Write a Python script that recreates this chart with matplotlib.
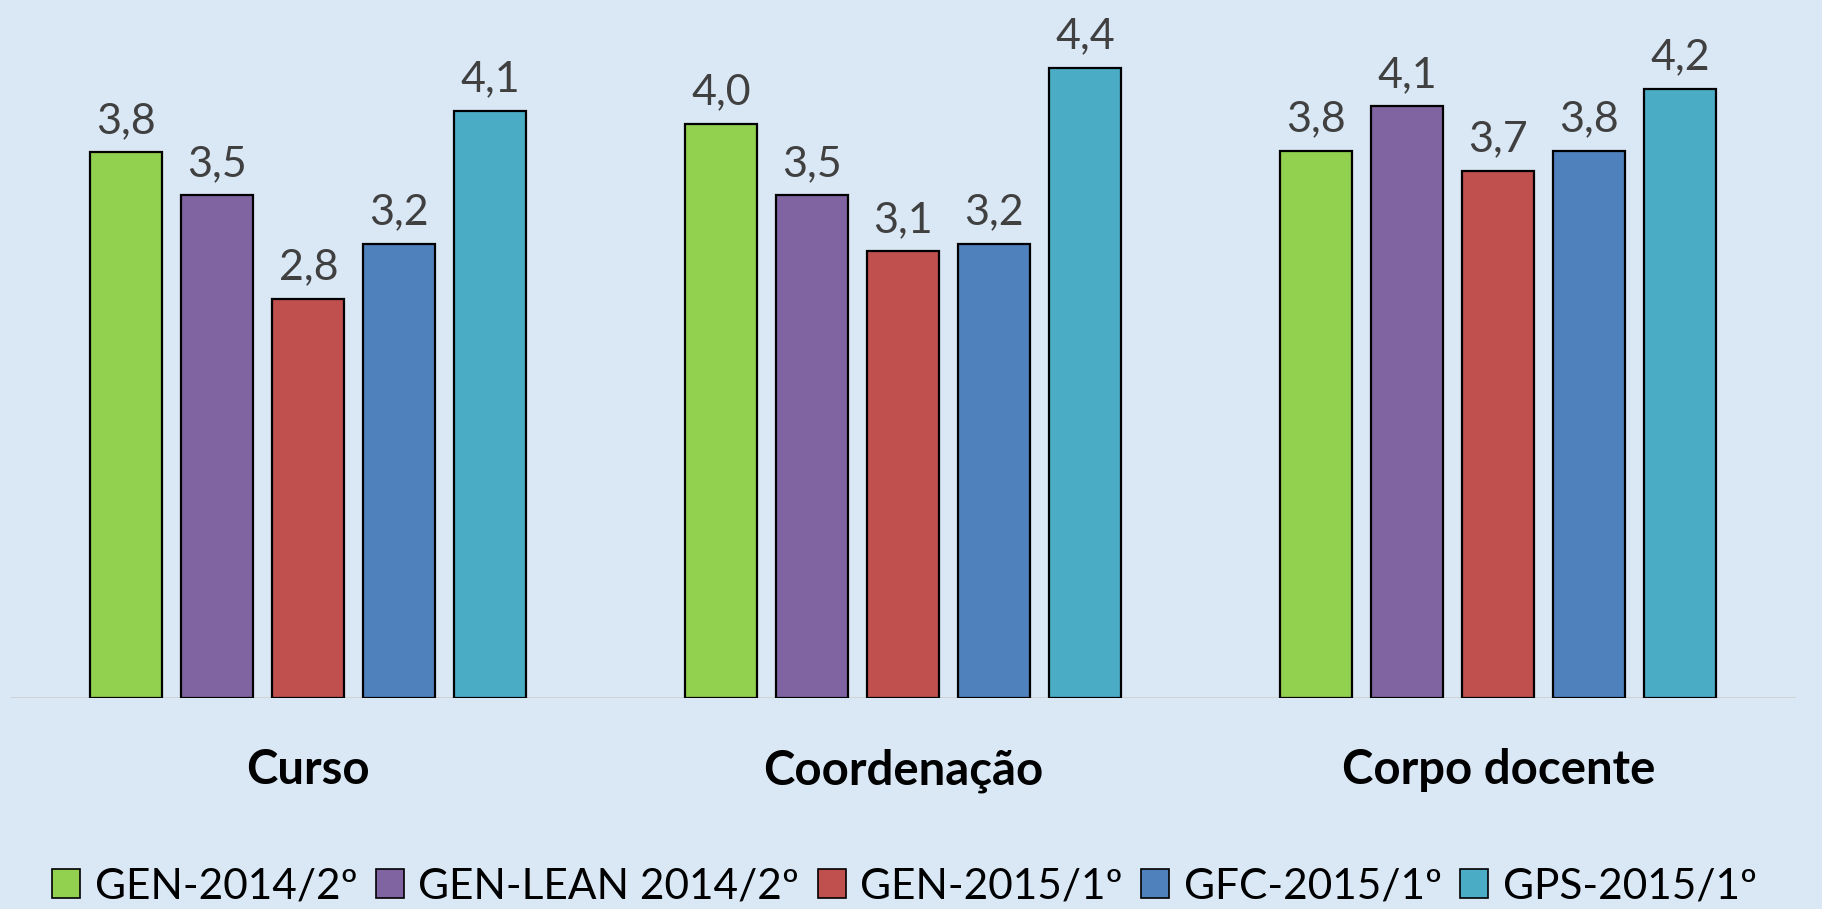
import matplotlib
matplotlib.use("Agg")
import matplotlib.pyplot as plt
import numpy as np

categories = ["Curso", "Coordenação", "Corpo docente"]
series_names = ["GEN-2014/2º", "GEN-LEAN 2014/2º", "GEN-2015/1º", "GFC-2015/1º", "GPS-2015/1º"]
gen_2014 = [3.80, 4.00, 3.81]
gen_lean_2014 = [3.50, 3.50, 4.12]
gen_2015 = [2.78, 3.11, 3.67]
gfc_2015 = [3.16, 3.16, 3.81]
gps_2015 = [4.09, 4.39, 4.24]
series_values = [gen_2014, gen_lean_2014, gen_2015, gfc_2015, gps_2015]
colors = ["#92d050", "#8064a2", "#c0504d", "#4f81bd", "#4bacc6"]

plt.rcParams['font.family'] = ['Lato', 'DejaVu Sans']

bg = "#dae8f6"
fig = plt.figure(figsize=(18.22, 9.09), dpi=100, facecolor=bg)
ax = fig.add_axes([0.006, 0.232, 0.9796, 0.768])
ax.set_facecolor(bg)
ax.patch.set_alpha(0)

x = np.arange(len(categories))
pitch = 0.153
width = 0.121
for i, (name, vals, c) in enumerate(zip(series_names, series_values, colors)):
    pos = x + (i - 2) * pitch
    bars = ax.bar(pos, vals, width=width, color=c, edgecolor="black", linewidth=1.6, label=name, zorder=3)
    for b, v in zip(bars, vals):
        ax.annotate(f"{v:.1f}".replace(".", ","), (b.get_x() + b.get_width() / 2, v),
                    xytext=(0, 9), textcoords="offset points", ha="center", va="bottom",
                    fontsize=31, color="#404040")

ax.set_xlim(-0.5, 2.5)
ax.set_ylim(0, 4.86)
ax.axhline(0, color="#d0d0d0", linewidth=2, zorder=2)
for s in ax.spines.values():
    s.set_visible(False)
ax.set_yticks([])
ax.set_xticks(x)
ax.set_xticklabels(categories, fontsize=34, fontweight="bold", color="black")
ax.tick_params(axis="x", length=0, pad=36)

leg = fig.legend(loc="center", bbox_to_anchor=(0.4965, 0.025), ncol=5, frameon=False,
                 fontsize=30.5, handlelength=0.66, handleheight=0.66, handletextpad=0.35,
                 columnspacing=0.43, borderaxespad=0)
for h in leg.legend_handles:
    h.set_linewidth(1.2)

fig.savefig("out.png", dpi=100, facecolor=bg)
